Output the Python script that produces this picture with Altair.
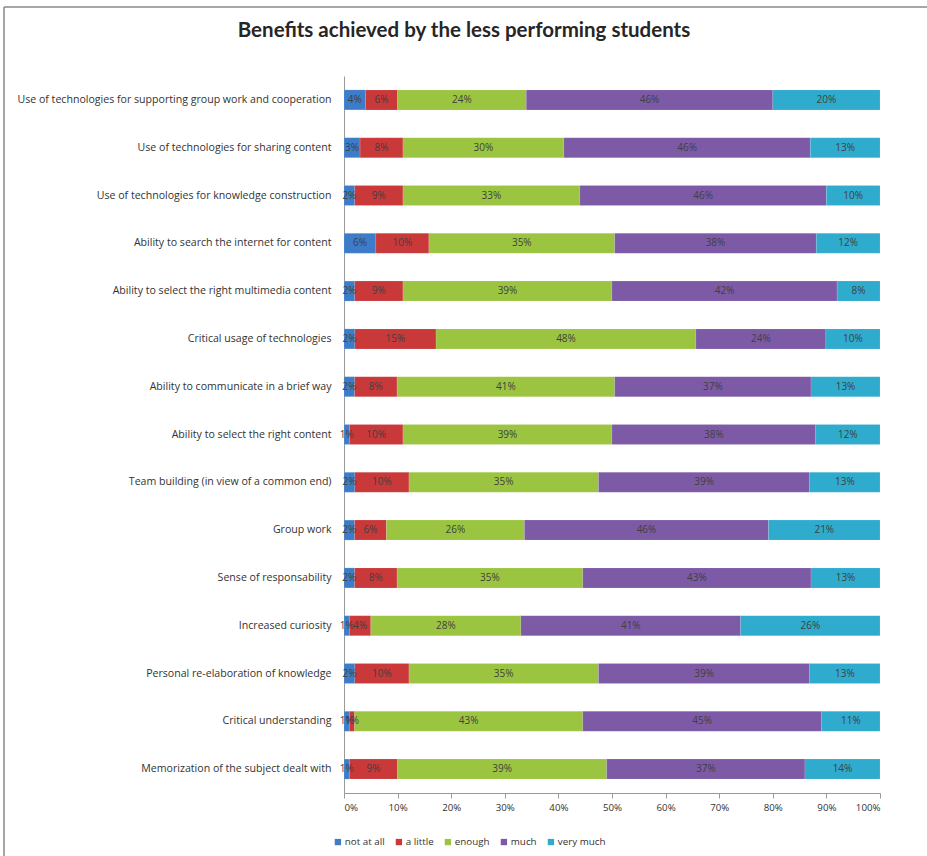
import altair as alt
import pandas as pd

categories = [
    "Use of technologies for supporting group work and cooperation",
    "Use of technologies for sharing content",
    "Use of technologies for knowledge construction",
    "Ability to search the internet for content",
    "Ability to select the right multimedia content",
    "Critical usage of technologies",
    "Ability to communicate in a brief way",
    "Ability to select the right content",
    "Team building (in view of a common end)",
    "Group work",
    "Sense of responsability",
    "Increased curiosity",
    "Personal re-elaboration of knowledge",
    "Critical understanding",
    "Memorization of the subject dealt with",
]
levels = ["not at all", "a little", "enough", "much", "very much"]
not_at_all = [4, 3, 2, 6, 2, 2, 2, 1, 2, 2, 2, 1, 2, 1, 1]
a_little = [6, 8, 9, 10, 9, 15, 8, 10, 10, 6, 8, 4, 10, 1, 9]
enough = [24, 30, 33, 35, 39, 48, 41, 39, 35, 26, 35, 28, 35, 43, 39]
much = [46, 46, 46, 38, 42, 24, 37, 38, 39, 46, 43, 41, 39, 45, 37]
very_much = [20, 13, 10, 12, 8, 10, 13, 12, 13, 21, 13, 26, 13, 11, 14]
colors = ["#3d7cc9", "#c9393a", "#9bc541", "#7c5aa6", "#2fabcd"]

series = [not_at_all, a_little, enough, much, very_much]
rows = []
for li, (lvl, vals) in enumerate(zip(levels, series)):
    for c, v in zip(categories, vals):
        rows.append({"cat": c, "level": lvl, "order": li, "value": v})
df = pd.DataFrame(rows)

base = alt.Chart(df).transform_stack(
    stack="value", groupby=["cat"], as_=["x0", "x1"], offset="normalize",
    sort=[alt.SortField("order", order="ascending")],
).transform_calculate(mid="(datum.x0 + datum.x1) / 2",
                      lab="datum.value + '%'")

yenc = alt.Y("cat:N", sort=categories, title=None,
             scale=alt.Scale(paddingInner=0.58, paddingOuter=0.29),
             axis=alt.Axis(labelFont="Open Sans", labelFontSize=10.6, labelColor="#333333",
                           labelPadding=13, ticks=False, domainColor="#999999",
                           labelLimit=400))

bars = base.mark_bar(size=20, stroke="#ffffff", strokeWidth=0.3, strokeOpacity=0.4).encode(
    x=alt.X("x0:Q", scale=alt.Scale(domain=[0, 1]), title=None,
            axis=alt.Axis(format="%", values=[i / 10 for i in range(11)], grid=False,
                          labelFont="Open Sans", labelFontSize=9.7, labelColor="#333333",
                          domainColor="#999999", tickColor="#999999", tickSize=5,
                          labelPadding=4)),
    x2="x1:Q",
    y=yenc,
    color=alt.Color("level:N", sort=levels,
                    scale=alt.Scale(domain=levels, range=colors),
                    legend=alt.Legend(title=None, orient="none", direction="horizontal",
                                      legendX=-11, legendY=761, symbolType="square",
                                      symbolSize=40, symbolStrokeWidth=0,
                                      labelFont="Open Sans", labelFontSize=9.8,
                                      labelColor="#333333", columnPadding=9,
                                      labelOffset=2)),
)

texts = base.mark_text(font="Open Sans", fontSize=10, color="#404040").encode(
    x="mid:Q",
    y=alt.Y("cat:N", sort=categories),
    text="lab:N",
)

frame_df = pd.DataFrame({"k": [0]})
frame_top = alt.Chart(frame_df).mark_rule(color="#888888", strokeWidth=1.5).encode(
    x=alt.value(-340), x2=alt.value(583), y=alt.value(-69))
frame_left = alt.Chart(frame_df).mark_rule(color="#888888", strokeWidth=1.5).encode(
    x=alt.value(-340), y=alt.value(-69), y2=alt.value(780))

chart = (bars + texts + frame_top + frame_left).properties(
    width=536, height=717,
    padding={"left": 344, "top": 76, "right": 47, "bottom": 63},
    autosize=alt.AutoSizeParams(type="none"),
    background="white",
    view=alt.ViewBackground(stroke="transparent", strokeWidth=0),
    title=alt.TitleParams("Benefits achieved by the less performing students",
                          font="Lato", fontSize=20.5, fontWeight="bold", color="#262626",
                          anchor="middle", dx=-148, offset=-35),
).configure_view(stroke="transparent", strokeWidth=0).configure_axisX(grid=False).configure_axisY(grid=False)

chart.save("out.html", embed_options={"renderer": "svg", "actions": False})
